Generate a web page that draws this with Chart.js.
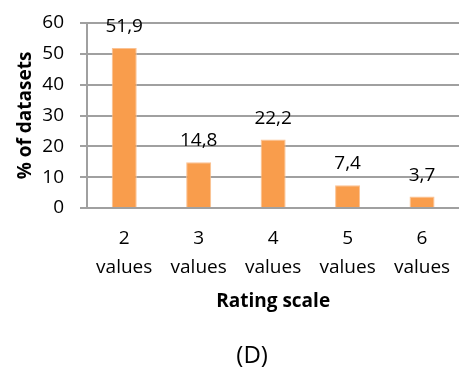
<!DOCTYPE html>
<html>
<head>
<meta charset="utf-8">
<script src="https://cdn.jsdelivr.net/npm/chart.js@4/dist/chart.umd.min.js"></script>
<style>
html,body{margin:0;padding:0;background:#fff;overflow:hidden;width:459px;height:369px;}
#wrap{position:absolute;left:0;top:0;width:467px;height:369px;}
</style>
</head>
<body>
<div id="wrap"><canvas id="c" width="467" height="369" style="width:467px;height:369px"></canvas></div>
<script>
const categories = [["2","values"],["3","values"],["4","values"],["5","values"],["6","values"]];
const values = [51.9, 14.8, 22.2, 7.4, 3.7];
const valueLabels = ["51,9","14,8","22,2","7,4","3,7"];
const yTicks = [0,10,20,30,40,50,60];
const yTitle = "% of datasets";
const xTitle = "Rating scale";
const panelLabel = "(D)";

const FONT = "'Open Sans', 'Noto Sans', sans-serif";

const valueLabelPlugin = {
  id: 'valueLabels',
  afterDatasetsDraw(chart) {
    const ctx = chart.ctx;
    const meta = chart.getDatasetMeta(0);
    ctx.save();
    ctx.font = "19px " + FONT;
    ctx.fillStyle = "#000";
    ctx.textAlign = "center";
    ctx.textBaseline = "alphabetic";
    meta.data.forEach((bar, i) => {
      ctx.fillText(valueLabels[i], bar.x, bar.y - 16);
    });
    ctx.restore();
  }
};

const panelPlugin = {
  id: 'panelLabel',
  afterDraw(chart) {
    const ctx = chart.ctx;
    const a = chart.chartArea;
    ctx.save();
    ctx.font = "24px " + FONT;
    ctx.fillStyle = "#000";
    ctx.textAlign = "center";
    ctx.textBaseline = "alphabetic";
    ctx.fillText(panelLabel, (a.left + a.right) / 2 - 21, chart.height - 6);
    ctx.restore();
  }
};

new Chart(document.getElementById('c'), {
  type: 'bar',
  data: {
    labels: categories,
    datasets: [{
      data: values,
      backgroundColor: '#F99D4C',
      borderColor: '#FBC293',
      borderWidth: 1,
      barPercentage: 0.336,
      categoryPercentage: 1.0
    }]
  },
  options: {
    responsive: false,
    animation: false,
    devicePixelRatio: 1,
    layout: { padding: { left: 14.6, top: 23, right: 1, bottom: 50 } },
    plugins: {
      legend: { display: false },
      tooltip: { enabled: false }
    },
    scales: {
      x: {
        afterFit(scale) { scale.height = 111; },
        grid: { display: false, drawTicks: false },
        border: { display: false },
        ticks: {
          font: { family: FONT, size: 19, lineHeight: 1.5 },
          color: '#000',
          padding: 16.75,
          maxRotation: 0,
          autoSkip: false
        },
        title: {
          display: true,
          text: xTitle,
          font: { family: FONT, size: 19, weight: 'bold', lineHeight: 1.2 },
          color: '#000',
          padding: { top: 0, bottom: 5.6 }
        }
      },
      y: {
        min: 0,
        max: 60,
        afterFit(scale) { scale.width = 72.4; },
        afterBuildTicks(scale) { scale.ticks = yTicks.map(v => ({ value: v })); },
        grid: { color: '#A0A0A0', lineWidth: 2, tickLength: 7, drawTicks: true },
        border: { color: '#A0A0A0', width: 2 },
        ticks: {
          font: { family: FONT, size: 19, lineHeight: 0.6 },
          color: '#000',
          padding: 16
        },
        title: {
          display: true,
          text: yTitle,
          font: { family: FONT, size: 19, weight: 'bold', lineHeight: 1.2 },
          color: '#000',
          padding: { top: 0, bottom: 0 }
        }
      }
    }
  },
  plugins: [valueLabelPlugin, panelPlugin]
});
</script>
</body>
</html>
